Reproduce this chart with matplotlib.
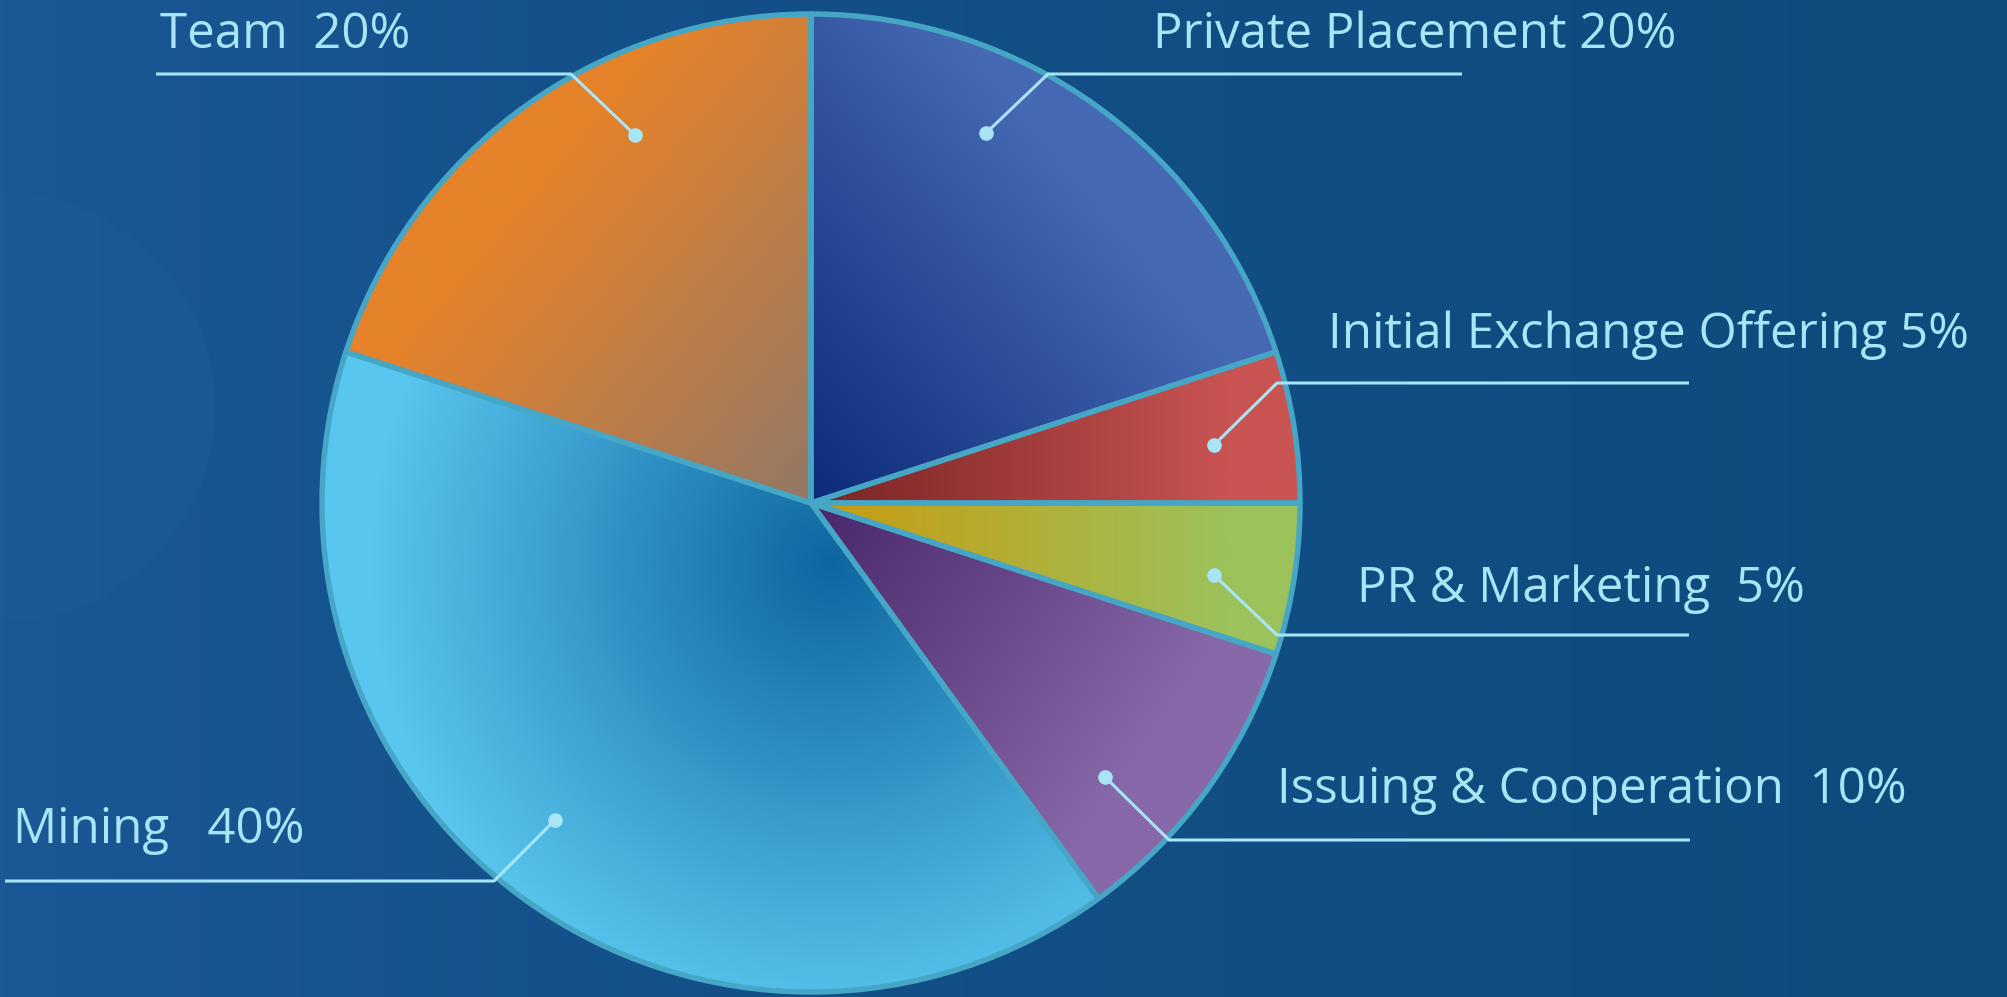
import numpy as np
import matplotlib
matplotlib.use("Agg")
import matplotlib.pyplot as plt
from matplotlib.patches import Wedge, Circle
from matplotlib.colors import to_rgb

# token allocation, clockwise from 12 o'clock
names = ["Private Placement", "Initial Exchange Offering", "PR & Marketing",
         "Issuing & Cooperation", "Mining", "Team"]
shares = [20, 5, 5, 10, 40, 20]
gaps = [" ", " ", "  ", "  ", "   ", "  "]

# slice colours: (inner, outer)
inner_cols = ["#0c2a78", "#782424", "#c99a0e", "#48266a", "#0e66a0", "#937866"]
outer_cols = ["#4569b2", "#c85452", "#9cc25c", "#8768a8", "#58c6ee", "#e5822a"]
grad_dirs = [40, 0, 0, -35, None, 140]   # None -> radial

W, H = 2008, 997
cx, cy, R = 811, 997 - 503, 489

# label layout in pixel coords (y down)
dot_px = [(986, 133), (1214, 445), (1214, 575), (1105, 777), (555, 820), (635, 135)]
elbow_px = [(1048, 74), (1277, 383), (1277, 635), (1169, 840), (494, 881), (571, 74)]
line_end_x = [1462, 1689, 1689, 1690, 5, 156]
text_x = [1153, 1328, 1357, 1277, 13, 160]
text_base = [48, 348, 602, 803, 843, 48]

txt_col = "#a8e6f6"
edge_col = "#46a6c6"

fig = plt.figure(figsize=(W / 100, H / 100), dpi=100)
ax = fig.add_axes([0, 0, 1, 1])

# background
gx = np.linspace(0, 1, 400)
c_l, c_m, c_r = np.array(to_rgb("#1a5896")), np.array(to_rgb("#135089")), np.array(to_rgb("#0d4b7c"))
row = np.where(gx[:, None] < 0.35,
               c_l + (c_m - c_l) * (gx[:, None] / 0.35),
               c_m + (c_r - c_m) * ((gx[:, None] - 0.35) / 0.65))
bg = np.tile(row[None, :, :], (50, 1, 1))
ax.imshow(bg, extent=(0, W, 0, H), aspect="auto", zorder=0)
ax.add_patch(Circle((0, 997 - 407), 215, facecolor="#1f5e98", alpha=0.35,
                    edgecolor="none", zorder=0.5))

wedges, _ = ax.pie(shares, startangle=90, counterclock=False,
                   center=(cx, cy), radius=R, colors=inner_cols,
                   wedgeprops=dict(edgecolor="none"))

n = 500
xs = np.linspace(cx - R, cx + R, n)
ys = np.linspace(cy - R, cy + R, n)
X, Y = np.meshgrid(xs, ys)

for i, w in enumerate(wedges):
    c0 = np.array(to_rgb(inner_cols[i]))
    c1 = np.array(to_rgb(outer_cols[i]))
    if grad_dirs[i] is None:
        t = np.hypot(X - (cx + 20), Y - (cy - 60)) / (R * 0.95)
    else:
        a = np.radians(grad_dirs[i])
        t = ((X - cx) * np.cos(a) + (Y - cy) * np.sin(a)) / (R * 0.85)
    t = np.clip(t, 0, 1)[..., None]
    img = c0 + (c1 - c0) * t
    im = ax.imshow(img, extent=(cx - R, cx + R, cy - R, cy + R),
                   origin="lower", zorder=2, interpolation="bilinear")
    im.set_clip_path(w)
    ax.add_patch(Wedge(w.center, w.r, w.theta1, w.theta2, facecolor="none",
                       edgecolor=edge_col, linewidth=3.9, zorder=3,
                       joinstyle="round"))

# labels with leader lines
for i in range(len(names)):
    dx, dy = dot_px[i]
    ex, ey = elbow_px[i]
    ax.plot([dx, ex, line_end_x[i]], [H - dy, H - ey, H - ey],
            color=txt_col, linewidth=2.2, zorder=4, solid_capstyle="butt")
    ax.plot([dx], [H - dy], "o", color=txt_col, markersize=9.5, zorder=5)
    ax.text(text_x[i], H - text_base[i], f"{names[i]}{gaps[i]}{shares[i]}%",
            color=txt_col, fontsize=35.5, family="Open Sans",
            ha="left", va="baseline", zorder=5)

ax.set_xlim(0, W)
ax.set_ylim(0, H)
ax.axis("off")
fig.savefig("out.png", dpi=100)
